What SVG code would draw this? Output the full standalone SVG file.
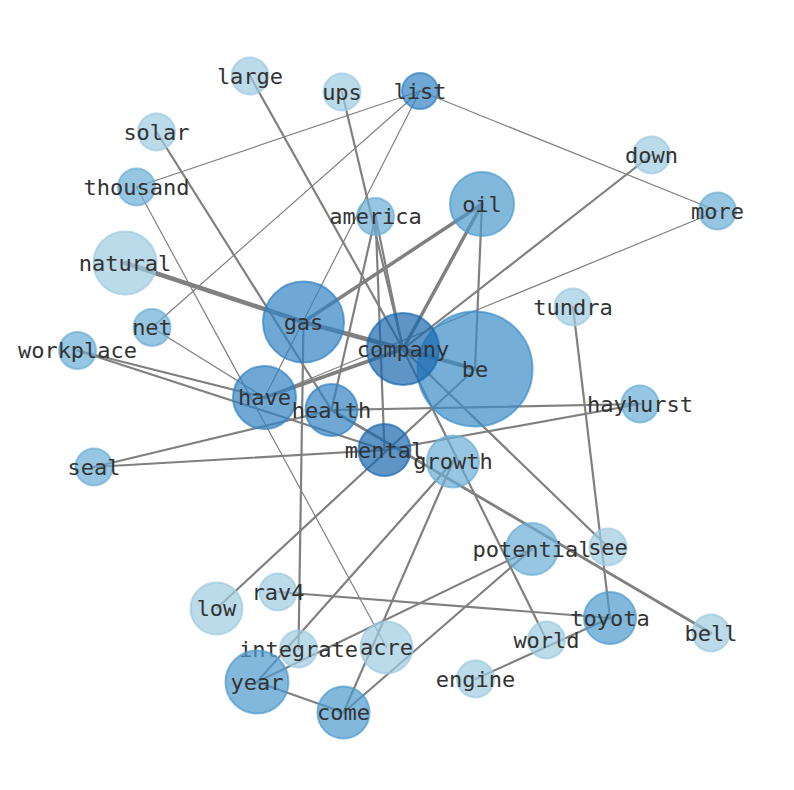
<svg xmlns="http://www.w3.org/2000/svg" width="794" height="790" viewBox="0 0 794 790">
<style>
.e{stroke:#808080;fill:none;stroke-linecap:round}
.t1{stroke-width:1.2}
.t2{stroke-width:2.2}
.n circle{fill-opacity:0.7;stroke-opacity:0.7;stroke-width:2}
.c1{fill:#9ecae1;stroke:#9ecae1}
.c2{fill:#6baed6;stroke:#6baed6}
.c3{fill:#4d9acd;stroke:#4d9acd}
.cb{fill:#3a8bc6;stroke:#3a8bc6}
.c4{fill:#3282c3;stroke:#3282c3}
.c5{fill:#1a68ae;stroke:#1a68ae}
.n text{font-family:"DejaVu Sans Mono","Liberation Mono",monospace;font-size:22px;fill:#333333;text-anchor:middle}
</style>
<rect width="794" height="790" fill="#ffffff"/>
<g id="edges">
<line class="e t1" x1="420" y1="91" x2="136.5" y2="187"/>
<line class="e t1" x1="420" y1="91" x2="152" y2="327.5"/>
<line class="e t1" x1="420" y1="91" x2="264.5" y2="397.5"/>
<line class="e t1" x1="420" y1="91" x2="717.5" y2="211"/>
<line class="e t1" x1="136.5" y1="187" x2="386.5" y2="647.5"/>
<line class="e t1" x1="717.5" y1="211" x2="264.5" y2="397.5"/>
<line class="e t1" x1="152" y1="327.5" x2="264.5" y2="397.5"/>
<line class="e t2" x1="250" y1="76" x2="403" y2="349"/>
<line class="e t2" x1="342" y1="92" x2="403" y2="349"/>
<line class="e t2" x1="156.5" y1="132" x2="331.5" y2="410"/>
<line class="e t2" x1="375.5" y1="216.5" x2="331.5" y2="410"/>
<line class="e t2" x1="375.5" y1="216.5" x2="384.5" y2="450"/>
<line class="e t2" x1="375.5" y1="216.5" x2="403" y2="349"/>
<line class="e t2" x1="651.5" y1="155" x2="403" y2="349"/>
<line class="e t2" x1="482" y1="204" x2="475" y2="369"/>
<line class="e t2" x1="303.5" y1="322" x2="298.5" y2="649"/>
<line class="e t2" x1="77.5" y1="350.5" x2="264.5" y2="397.5"/>
<line class="e t2" x1="77.5" y1="350.5" x2="384.5" y2="450"/>
<line class="e t2" x1="94" y1="467" x2="331.5" y2="410"/>
<line class="e t2" x1="94" y1="467" x2="384.5" y2="450"/>
<line class="e t2" x1="331.5" y1="410" x2="640" y2="404"/>
<line class="e t2" x1="384.5" y1="450" x2="640" y2="404"/>
<line class="e t2" x1="216.5" y1="608.5" x2="475" y2="369"/>
<line class="e t2" x1="403" y1="349" x2="608" y2="547"/>
<line class="e t2" x1="403" y1="349" x2="546.5" y2="640"/>
<line class="e t2" x1="453" y1="461.5" x2="257" y2="682"/>
<line class="e t2" x1="453" y1="461.5" x2="343.5" y2="712.5"/>
<line class="e t2" x1="532" y1="549" x2="257" y2="682"/>
<line class="e t2" x1="532" y1="549" x2="343.5" y2="712.5"/>
<line class="e t2" x1="257" y1="682" x2="343.5" y2="712.5"/>
<line class="e t2" x1="573" y1="307" x2="610" y2="618"/>
<line class="e t2" x1="278" y1="592" x2="610" y2="618"/>
<line class="e t2" x1="475.5" y1="679" x2="610" y2="618"/>
<line class="e" stroke-width="2.8" x1="331.5" y1="410" x2="711" y2="633"/>
<line class="e" stroke-width="4.5" x1="125" y1="263" x2="303.5" y2="322"/>
<line class="e" stroke-width="4.5" x1="303.5" y1="322" x2="403" y2="349"/>
<line class="e" stroke-width="4" x1="403" y1="349" x2="475" y2="369"/>
<line class="e" stroke-width="3.5" x1="303.5" y1="322" x2="482" y2="204"/>
<line class="e" stroke-width="3.5" x1="482" y1="204" x2="403" y2="349"/>
<line class="e" stroke-width="3.5" x1="264.5" y1="397.5" x2="403" y2="349"/>
</g>
<g id="large" class="n"><circle class="c1" cx="250" cy="76" r="18.5"/><text x="250" y="83.5">large</text></g>
<g id="ups" class="n"><circle class="c1" cx="342" cy="92" r="18.5"/><text x="342" y="99.5">ups</text></g>
<g id="list" class="n"><circle class="c4" cx="420" cy="91" r="18"/><text x="420" y="98.5">list</text></g>
<g id="solar" class="n"><circle class="c1" cx="156.5" cy="132" r="18.5"/><text x="156.5" y="139.5">solar</text></g>
<g id="thousand" class="n"><circle class="c2" cx="136.5" cy="187" r="18.5"/><text x="136.5" y="194.5">thousand</text></g>
<g id="down" class="n"><circle class="c1" cx="651.5" cy="155" r="18.5"/><text x="651.5" y="162.5">down</text></g>
<g id="more" class="n"><circle class="c2" cx="717.5" cy="211" r="18.5"/><text x="717.5" y="218.5">more</text></g>
<g id="america" class="n"><circle class="c2" cx="375.5" cy="216.5" r="18.5"/><text x="375.5" y="224">america</text></g>
<g id="oil" class="n"><circle class="c3" cx="482" cy="204" r="32"/><text x="482" y="211.5">oil</text></g>
<g id="natural" class="n"><circle class="c1" cx="125" cy="263" r="31.5"/><text x="125" y="270.5">natural</text></g>
<g id="gas" class="n"><circle class="c4" cx="303.5" cy="322" r="40.5"/><text x="303.5" y="329.5">gas</text></g>
<g id="net" class="n"><circle class="c2" cx="152" cy="327.5" r="18.5"/><text x="152" y="335">net</text></g>
<g id="tundra" class="n"><circle class="c1" cx="573" cy="307" r="18.5"/><text x="573" y="314.5">tundra</text></g>
<g id="workplace" class="n"><circle class="c2" cx="77.5" cy="350.5" r="18.5"/><text x="77.5" y="358">workplace</text></g>
<g id="be" class="n"><circle class="cb" cx="475" cy="369" r="57.5"/><text x="475" y="376.5">be</text></g>
<g id="company" class="n"><circle class="c5" cx="403" cy="349" r="36"/><text x="403" y="356.5">company</text></g>
<g id="have" class="n"><circle class="c4" cx="264.5" cy="397.5" r="31.5"/><text x="264.5" y="405">have</text></g>
<g id="health" class="n"><circle class="c4" cx="331.5" cy="410" r="26"/><text x="331.5" y="417.5">health</text></g>
<g id="hayhurst" class="n"><circle class="c2" cx="640" cy="404" r="18.5"/><text x="640" y="411.5">hayhurst</text></g>
<g id="mental" class="n"><circle class="c5" cx="384.5" cy="450" r="26"/><text x="384.5" y="457.5">mental</text></g>
<g id="growth" class="n"><circle class="c2" cx="453" cy="461.5" r="26"/><text x="453" y="469">growth</text></g>
<g id="seal" class="n"><circle class="c2" cx="94" cy="467" r="18.5"/><text x="94" y="474.5">seal</text></g>
<g id="potential" class="n"><circle class="c2" cx="532" cy="549" r="26"/><text x="532" y="556.5">potential</text></g>
<g id="see" class="n"><circle class="c1" cx="608" cy="547" r="18.5"/><text x="608" y="554.5">see</text></g>
<g id="rav4" class="n"><circle class="c1" cx="278" cy="592" r="18.5"/><text x="278" y="599.5">rav4</text></g>
<g id="low" class="n"><circle class="c1" cx="216.5" cy="608.5" r="26"/><text x="216.5" y="616">low</text></g>
<g id="toyota" class="n"><circle class="c3" cx="610" cy="618" r="26"/><text x="610" y="625.5">toyota</text></g>
<g id="bell" class="n"><circle class="c1" cx="711" cy="633" r="18.5"/><text x="711" y="640.5">bell</text></g>
<g id="world" class="n"><circle class="c1" cx="546.5" cy="640" r="18.5"/><text x="546.5" y="647.5">world</text></g>
<g id="integrate" class="n"><circle class="c1" cx="298.5" cy="649" r="18.5"/><text x="298.5" y="656.5">integrate</text></g>
<g id="acre" class="n"><circle class="c1" cx="386.5" cy="647.5" r="26"/><text x="386.5" y="655">acre</text></g>
<g id="engine" class="n"><circle class="c1" cx="475.5" cy="679" r="18.5"/><text x="475.5" y="686.5">engine</text></g>
<g id="year" class="n"><circle class="c3" cx="257" cy="682" r="31.5"/><text x="257" y="689.5">year</text></g>
<g id="come" class="n"><circle class="c3" cx="343.5" cy="712.5" r="26"/><text x="343.5" y="720">come</text></g>
</svg>
